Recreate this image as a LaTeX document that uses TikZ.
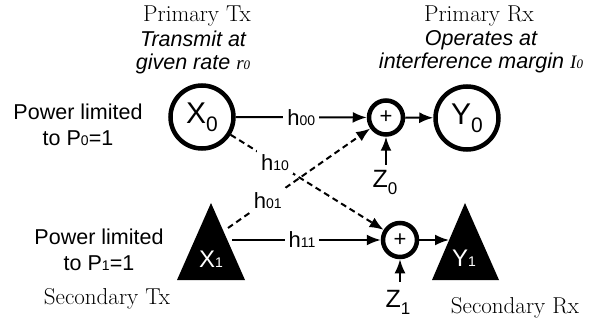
\documentclass[tikz,border=0pt]{standalone}
\usepackage{fontspec}
\newfontfamily\hv{Liberation Sans}
\newfontfamily\tm{Liberation Serif}
\usetikzlibrary{arrows.meta}
\newcommand\fsz[1]{\fontsize{#1}{#1}\selectfont}
\newcommand\bsub[1]{{\fsz{14}#1}}
\newcommand\dsub[3]{\raisebox{-#2}{\fsz{#3}#1}}
\begin{document}
\begin{tikzpicture}[x=1pt,y=-1pt,
  big/.style={circle,draw,line width=4.5pt,minimum size=63pt,inner sep=0pt,font=\hv\fsz{30}},
  sumn/.style={circle,draw,line width=4.5pt,minimum size=34pt,inner sep=0pt,font=\hv\fsz{22}},
  txt/.style={font=\hv\fontsize{21.5}{26}\selectfont,align=center,inner sep=0pt},
  ital/.style={font=\hv\itshape\fontsize{21.5}{23}\selectfont,align=center,inner sep=0pt},
  hand/.style={font=\fsz{23},inner sep=0pt},
  chan/.style={fill=white,inner sep=4pt,font=\hv\fsz{22}},
  arr/.style={line width=2pt,-{Latex[length=14pt,width=11pt]}},
  darr/.style={arr,dash pattern=on 6pt off 4pt},
  tri/.style={fill=black},
  wlab/.style={text=white,font=\hv\fsz{24},inner sep=0pt},
  zlab/.style={font=\hv\fsz{25},inner sep=0pt}
]
\useasboundingbox (0,0) rectangle (603,326);
% texts
\node[hand] (ptx) at (197,16) {Primary Tx};
\node[ital] (ptxd) at (193,52) {Transmit at\\given rate {\tm\itshape\fsz{19}r{\fsz{13}0}}};
\node[hand] (prx) at (479,16) {Primary Rx};
\node[ital] (prxd) at (481,52) {Operates at\\interference margin {\tm\itshape\fsz{19}I{\fsz{13}0}}};
\node[txt] (p0) at (78,125) {Power limited\\to P\bsub{0}=1};
\node[txt] (p1) at (99,250) {Power limited\\to P\bsub{1}=1};
\node[hand] (stx) at (107,299) {Secondary Tx};
\node[hand] (srx) at (515,308) {Secondary Rx};
% main nodes
\node[big] (X0) at (202,117) {X\dsub{0}{8pt}{21}\hspace{14pt}};
\node[big] (Y0) at (467,118) {Y\dsub{0}{8pt}{21}\hspace{10pt}};
\node[sumn] (S0) at (386,117.5) {+};
\node[sumn] (S1) at (400,240) {+};
\fill[tri] (211,203) -- (245,280) -- (177,280) -- cycle;
\fill[tri] (465,203) -- (499,280) -- (432,280) -- cycle;
\node[wlab] (X1) at (211,259) {X\bsub{1}};
\node[wlab] (Y1) at (464,258) {Y\bsub{1}};
\node[zlab] (Z0) at (385,182) {Z\dsub{0}{7pt}{17}};
\node[zlab] (Z1) at (398,302) {Z\dsub{1}{7pt}{17}};
\coordinate (X1o) at (232,240);
\coordinate (X1u) at (228,228);
\coordinate (Y1i) at (449,240);
% connectors
\draw[arr] (X0) -- node[chan]{h\bsub{00}} (S0);
\draw[darr] (X0) -- node[chan,pos=0.29]{h\bsub{10}} (S1);
\draw[darr] (X1u) -- node[chan,pos=0.28]{h\bsub{01}} (S0);
\draw[arr] (X1o) -- node[chan,pos=0.47]{h\bsub{11}} (S1);
\draw[arr] (S0) -- (Y0);
\draw[arr] (S1) -- (Y1i);
\draw[arr,shorten <=5pt] (Z0.north -| S0) -- (S0);
\draw[arr,shorten <=8pt] (Z1.north -| S1) -- (S1);
\end{tikzpicture}
\end{document}
